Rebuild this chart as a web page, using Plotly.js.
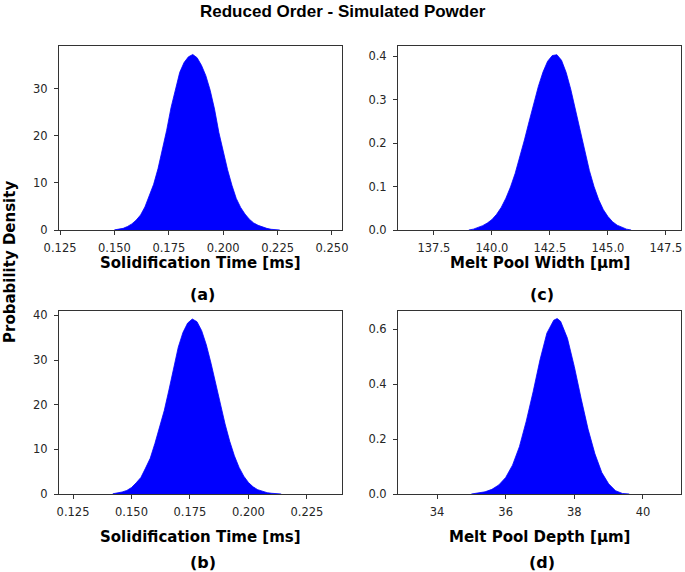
<!DOCTYPE html>
<html>
<head>
<meta charset="utf-8">
<script src="https://cdn.plot.ly/plotly-3.0.1.min.js"></script>
<style>html,body{margin:0;padding:0;background:#fff;}#chart{width:685px;height:572px;}</style>
</head>
<body>
<div id="chart"></div>
<script>
// (a) Solidification time, bin centres [ms] and density
const timeA_x = [0.150,0.152,0.154,0.156,0.158,0.160,0.162,0.164,0.166,0.168,0.170,0.172,0.174,0.176,0.178,0.180,0.182,0.184,0.186,0.188,0.190,0.192,0.194,0.196,0.198,0.200,0.202,0.204,0.206,0.208,0.210,0.212,0.214,0.216,0.218,0.220,0.222,0.224,0.226];
const timeA_density = [0.03,0.12,0.35,0.75,1.3,2.1,3.2,4.9,7.1,9.7,13.0,16.8,21.2,26.0,30.1,33.5,35.6,36.8,37.3,36.6,35.0,32.8,29.7,25.7,20.7,16.4,12.8,9.5,6.7,4.8,3.4,2.3,1.5,1.0,0.6,0.35,0.15,0.05,0];

// (b) Solidification time, second case
const timeB_x = [0.142,0.144,0.146,0.148,0.150,0.152,0.154,0.156,0.158,0.160,0.162,0.164,0.166,0.168,0.170,0.172,0.174,0.176,0.178,0.180,0.182,0.184,0.186,0.188,0.190,0.192,0.194,0.196,0.198,0.200,0.202,0.204,0.206,0.208,0.210,0.212,0.214];
const timeB_density = [0.05,0.2,0.45,0.8,1.45,2.5,3.7,5.8,8.0,11.3,14.9,18.7,23.3,28.4,32.9,36.2,38.3,39.2,38.6,36.6,33.4,29.3,24.7,20.1,15.7,11.8,8.55,5.96,4.0,2.58,1.6,0.96,0.55,0.3,0.16,0.06,0];

// (c) Melt pool width [µm]
const widthC_x = [139.0,139.2,139.4,139.6,139.8,140.0,140.2,140.4,140.6,140.8,141.0,141.2,141.4,141.6,141.8,142.0,142.2,142.4,142.6,142.8,143.0,143.2,143.4,143.6,143.8,144.0,144.2,144.4,144.6,144.8,145.0,145.2,145.4,145.6,145.8,146.0];
const widthC_density = [0,0.002,0.006,0.010,0.016,0.024,0.036,0.052,0.073,0.099,0.130,0.167,0.207,0.249,0.291,0.330,0.363,0.388,0.401,0.403,0.390,0.362,0.323,0.277,0.228,0.180,0.137,0.100,0.070,0.047,0.031,0.019,0.011,0.0066,0.002,0];

// (d) Melt pool depth [µm]
const depthD_x = [35.0,35.2,35.4,35.6,35.8,36.0,36.2,36.4,36.6,36.8,37.0,37.2,37.4,37.5,37.6,37.8,38.0,38.2,38.4,38.6,38.8,39.0,39.2,39.4,39.6];
const depthD_density = [0,0.003,0.008,0.017,0.033,0.060,0.105,0.172,0.265,0.372,0.488,0.585,0.632,0.638,0.628,0.566,0.463,0.346,0.236,0.146,0.078,0.037,0.012,0.002,0];

const xTicksA = [0.125,0.150,0.175,0.200,0.225,0.250];
const yTicksA = [0,10,20,30];
const xTicksB = [0.125,0.150,0.175,0.200,0.225];
const yTicksB = [0,10,20,30,40];
const xTicksC = [137.5,140.0,142.5,145.0,147.5];
const yTicksC = [0.0,0.1,0.2,0.3,0.4];
const xTicksD = [34,36,38,40];
const yTicksD = [0.0,0.2,0.4,0.6];

const xLabels = ['Solidification Time [ms]','Solidification Time [ms]','Melt Pool Width [µm]','Melt Pool Depth [µm]'];
const panelLabels = ['(a)','(b)','(c)','(d)'];

const W = 685, H = 572;
const px = v => v / W;
const py = v => 1 - v / H;

const blue = '#0000ff';
function trace(x, y, xa, ya) {
  return {x: x, y: y, xaxis: xa, yaxis: ya, type: 'scatter', mode: 'lines',
    fill: 'tozeroy', fillcolor: blue, line: {color: blue, width: 0.8, shape: 'linear'},
    hoverinfo: 'skip', showlegend: false};
}

const data = [
  trace(timeA_x, timeA_density, 'x', 'y'),
  trace(widthC_x, widthC_density, 'x2', 'y2'),
  trace(timeB_x, timeB_density, 'x3', 'y3'),
  trace(depthD_x, depthD_density, 'x4', 'y4')
];

const tickFont = {family: 'DejaVu Sans, sans-serif', size: 11.5, color: '#262626'};
function axis(domain, range, ticks, fmt, anchor, standoff) {
  return {domain: domain, range: range, tickmode: 'array', tickvals: ticks,
    ticktext: ticks.map(v => v.toFixed(fmt)), ticks: 'outside', ticklen: 4, tickwidth: 1,
    tickcolor: '#333', showline: true, mirror: true, linecolor: '#333', linewidth: 1,
    showgrid: false, zeroline: false, tickfont: tickFont, anchor: anchor, fixedrange: true,
    ticklabelstandoff: standoff};
}

const colL = [px(59), px(342)];
const colR = [px(398), px(681)];
const rowT = [py(230), py(46)];
const rowB = [py(494), py(311)];

const layout = {
  width: W, height: H, margin: {l: 0, r: 0, t: 0, b: 0},
  paper_bgcolor: '#fff', plot_bgcolor: '#fff',
  showlegend: false,
  xaxis: axis(colL, [0.1245, 0.2546], xTicksA, 3, 'y', 3),
  yaxis: axis(rowT, [0, 39.1], yTicksA, 0, 'x', 4),
  xaxis2: axis(colR, [135.95, 148.15], xTicksC, 1, 'y2', 3),
  yaxis2: axis(rowT, [0, 0.423], yTicksC, 1, 'x2', 4),
  xaxis3: axis(colL, [0.119, 0.240], xTicksB, 3, 'y3', 3),
  yaxis3: axis(rowB, [0, 41.0], yTicksB, 0, 'x3', 4),
  xaxis4: axis(colR, [32.864, 41.107], xTicksD, 0, 'y4', 3),
  yaxis4: axis(rowB, [0, 0.6655], yTicksD, 1, 'x4', 4),
  annotations: []
};

const titleFont = {family: 'Liberation Sans, Arial, sans-serif', size: 17, color: '#000'};
layout.annotations.push({text: '<b>Reduced Order - Simulated Powder</b>', xref: 'paper', yref: 'paper',
  x: px(342.5), y: py(12), xanchor: 'center', yanchor: 'middle', showarrow: false, font: titleFont});

const labFont = {family: 'DejaVu Sans, sans-serif', size: 15, color: '#000'};
const centers = [[200.5, 263, 294], [200.5, 537, 562], [539.5, 263, 294], [539.5, 537, 562]];
[0, 1, 2, 3].forEach(i => {
  const c = centers[i];
  layout.annotations.push({text: '<b>' + xLabels[i] + '</b>', xref: 'paper', yref: 'paper',
    x: px(c[0]), y: py(c[1]), xanchor: 'center', yanchor: 'middle', showarrow: false, font: labFont});
  layout.annotations.push({text: '<b>' + panelLabels[i] + '</b>', xref: 'paper', yref: 'paper',
    x: px(c[0] + 2), y: py(c[2]), xanchor: 'center', yanchor: 'middle', showarrow: false,
    font: {family: 'DejaVu Sans, sans-serif', size: 16, color: '#000'}});
});

layout.annotations.push({text: '<b>Probability Density</b>', xref: 'paper', yref: 'paper',
  x: px(10), y: py(262), xanchor: 'center', yanchor: 'middle', textangle: -90, showarrow: false,
  font: {family: 'DejaVu Sans, sans-serif', size: 15, color: '#000'}});

Plotly.newPlot('chart', data, layout, {displayModeBar: false, staticPlot: true});
</script>
</body>
</html>
